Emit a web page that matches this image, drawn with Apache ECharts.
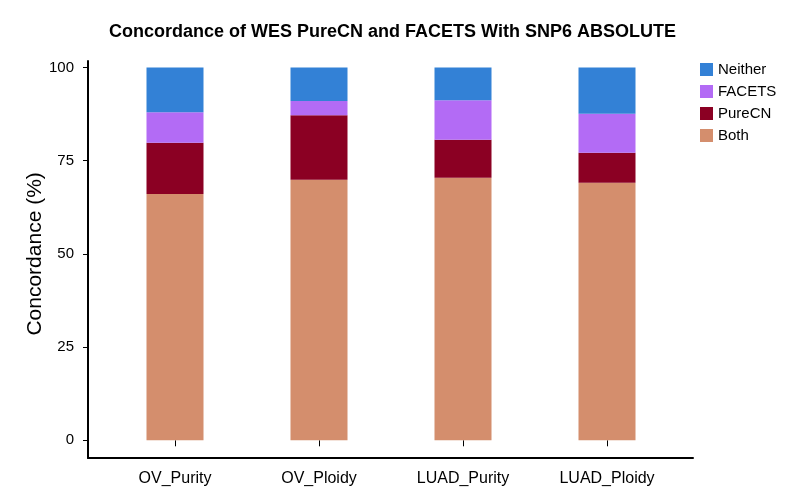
<!DOCTYPE html>
<html>
<head>
<meta charset="utf-8">
<style>
  html, body { margin: 0; padding: 0; background: #ffffff; }
  #chart { width: 785px; height: 503px; }
</style>
<script src="https://cdn.jsdelivr.net/npm/echarts@6/dist/echarts.min.js"></script>
</head>
<body>
<div id="chart"></div>
<script>
var categories = ['OV_Purity', 'OV_Ploidy', 'LUAD_Purity', 'LUAD_Ploidy'];
var bothValues = [66.1, 69.9, 70.4, 69.1];
var pureCNValues = [13.7, 17.3, 10.2, 8.0];
var facetsValues = [8.2, 3.8, 10.6, 10.5];
var neitherValues = [12.0, 9.0, 8.8, 12.4];
var yTicks = [0, 25, 50, 75, 100];

var FONT = '"Liberation Sans", Arial, Helvetica, sans-serif';
var colors = { Both: '#d48e6d', PureCN: '#8b0023', FACETS: '#b36bf5', Neither: '#3381d6' };

function barSeries(name, data) {
  return {
    name: name, type: 'bar', stack: 'total', xAxisIndex: 1, yAxisIndex: 1,
    barWidth: 57, data: data, itemStyle: { color: colors[name] },
    emphasis: { disabled: true }
  };
}

var chart = echarts.init(document.getElementById('chart'), null, { renderer: 'canvas' });
chart.setOption({
  animation: false,
  backgroundColor: '#ffffff',
  title: {
    text: 'Concordance of WES PureCN and FACETS With SNP6 ABSOLUTE',
    left: 'center', top: 18,
    textStyle: { fontFamily: FONT, fontSize: 18, fontWeight: 'bold', color: '#000' }
  },
  legend: {
    data: ['Neither', 'FACETS', 'PureCN', 'Both'],
    orient: 'vertical', left: 700, top: 62, padding: 0,
    itemWidth: 13, itemHeight: 13, itemGap: 7, itemTextGap: 8,
    icon: 'rect',
    textStyle: { fontFamily: FONT, fontSize: 15, color: '#000' }
  },
  grid: [
    { left: 88, right: 92, top: 61, bottom: 45 },
    { left: 103, right: 106, top: 67.5, bottom: 62.7 }
  ],
  xAxis: [
    { type: 'value', gridIndex: 0, min: 0, max: 1,
      axisLine: { show: true, lineStyle: { color: '#000', width: 2 } },
      axisTick: { show: false }, axisLabel: { show: false }, splitLine: { show: false } },
    { type: 'category', gridIndex: 1, data: categories, offset: 18,
      axisLine: { show: false },
      axisTick: { show: true, alignWithLabel: true, length: 6, lineStyle: { color: '#000', width: 1 } },
      axisLabel: { margin: 12, fontFamily: FONT, fontSize: 16, color: '#000' },
      splitLine: { show: false } }
  ],
  yAxis: [
    { type: 'value', gridIndex: 0, min: 0, max: 1,
      axisLine: { show: true, lineStyle: { color: '#000', width: 2 } },
      axisTick: { show: false }, axisLabel: { show: false }, splitLine: { show: false } },
    { type: 'value', gridIndex: 1, min: yTicks[0], max: yTicks[yTicks.length - 1], interval: 25, offset: 15,
      name: 'Concordance (%)', nameLocation: 'middle', nameGap: 42, nameMoveOverlap: false,
      nameTextStyle: { fontFamily: FONT, fontSize: 21, color: '#000' },
      axisLine: { show: false },
      axisTick: { show: true, length: 5, lineStyle: { color: '#000', width: 1 } },
      axisLabel: { margin: 14, fontFamily: FONT, fontSize: 15, color: '#000' },
      splitLine: { show: false } }
  ],
  series: [
    barSeries('Both', bothValues),
    barSeries('PureCN', pureCNValues),
    barSeries('FACETS', facetsValues),
    barSeries('Neither', neitherValues)
  ]
});
</script>
</body>
</html>
